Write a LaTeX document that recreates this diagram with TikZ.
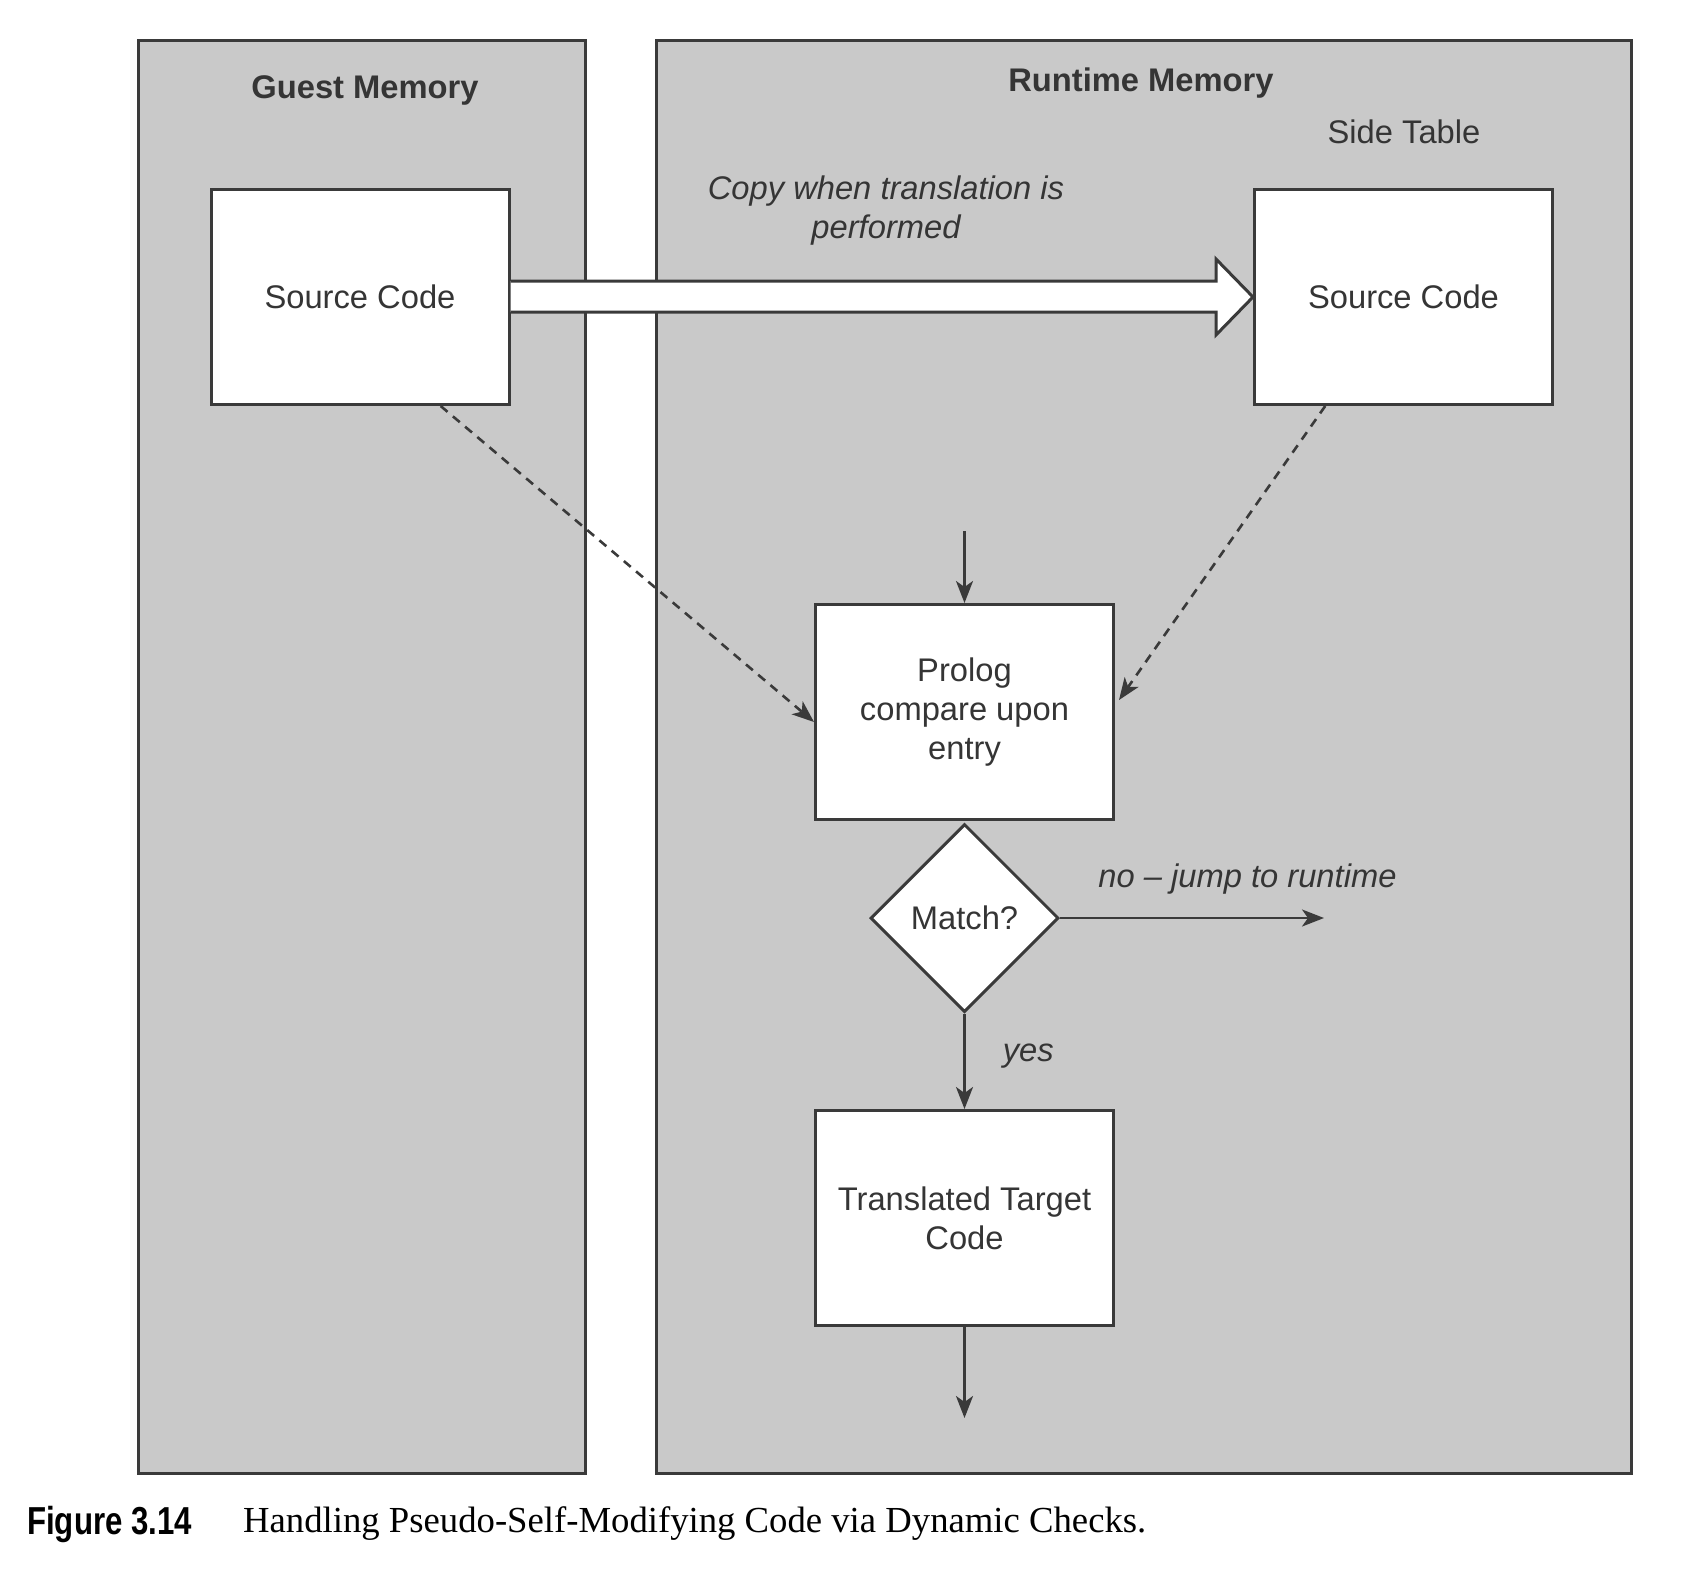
\documentclass[tikz,border=0pt]{standalone}
\usepackage{fontspec}
\setmainfont{Liberation Serif}
\setsansfont{Liberation Sans}
\usetikzlibrary{arrows.meta,shapes.geometric,calc}
\definecolor{panelgray}{HTML}{C9C9C9}
\definecolor{linegray}{HTML}{3A3A3A}
\definecolor{textgray}{HTML}{353535}
\tikzset{
  panel/.style={draw=linegray, line width=3pt, fill=panelgray, inner sep=0pt},
  codebox/.style={draw=linegray, line width=3pt, fill=white, minimum width=298pt, minimum height=215pt, inner sep=0pt, align=center, text=textgray, font=\fontsize{32.7}{39}\selectfont\sffamily},
  decision/.style={draw=linegray, line width=3pt, fill=white, diamond, aspect=1, minimum width=188pt, minimum height=188pt, inner sep=0pt, text=textgray, font=\fontsize{32.7}{39}\selectfont\sffamily},
  title/.style={text=textgray, inner sep=0pt, font=\fontsize{32.7}{39}\selectfont\sffamily\bfseries},
  plain/.style={text=textgray, inner sep=0pt, align=center, font=\fontsize{32.7}{39}\selectfont\sffamily},
  remark/.style={text=textgray, inner sep=0pt, align=center, font=\fontsize{32.7}{39}\selectfont\sffamily\itshape},
  flow/.style={draw=linegray, line width=2.6pt, -{Stealth[length=22pt, width=17pt, inset=6pt]}},
  dashflow/.style={flow, dash pattern=on 9pt off 7pt},
}
\begin{document}
\begin{tikzpicture}[x=1pt, y=-1pt]
\useasboundingbox (0,0) rectangle (1700,1569);
% panels
\node[panel, minimum width=447pt, minimum height=1433pt] (guest) at (361.5,756.5) {};
\node[panel, minimum width=975pt, minimum height=1433pt] (runtime) at (1143.5,756.5) {};
% titles
\node[title] (guesttitle) at (365,90) {Guest Memory};
\node[title] (runtimetitle) at (1141,83) {Runtime Memory};
\node[plain] (sidetable) at (1404,132) {Side Table};
\node[remark] (copylabel) at (886,211) {Copy when translation is\\performed};
% boxes
\node[codebox] (srcL) at (360,297) {Source Code};
\node[codebox] (srcR) at (1403.5,297) {Source Code};
\node[codebox] (prolog) at (964.5,712) {Prolog\\compare upon\\entry};
\node[decision] (match) at (964.5,918) {Match?};
\node[codebox] (target) at (964.5,1218) {Translated Target\\Code};
% big copy arrow
\draw[draw=linegray, line width=3pt, fill=white, line join=miter]
  ($(srcL.east)+(0,-16)$) -- ($(srcR.west)+(-37,-16)$) -- ($(srcR.west)+(-37,-38)$)
  -- (srcR.west) -- ($(srcR.west)+(-37,38)$) -- ($(srcR.west)+(-37,15)$) -- ($(srcL.east)+(0,15)$);
% free ends
\coordinate (entry) at ($(prolog.north)+(0,-72)$);
\coordinate (runtimeexit) at ($(match.east)+(264,0)$);
\coordinate (exit) at ($(target.south)+(0,91)$);
% connectors
\draw[flow] (entry) -- (prolog.north);
\draw[dashflow] ($(srcL.south west)!0.768!(srcL.south east)$) -- ($(prolog.west)+(0,10)$);
\draw[dashflow] ($(srcR.south west)!0.24!(srcR.south east)$) -- ($(prolog.east)+(4,-12)$);
\draw[flow] (match.east) -- node[remark, above=22pt, pos=0.71] (nolabel) {no -- jump to runtime} (runtimeexit);
\draw[flow] (match.south) -- node[remark, right=37pt, pos=0.45] (yeslabel) {yes} (target.north);
\draw[flow] (target.south) -- (exit);
% caption
\node[anchor=west, inner sep=0pt, font=\fontsize{39}{44}\selectfont\sffamily\bfseries] (fignum) at (27,1524) {\scalebox{0.8}[1]{Figure 3.14}};
\node[anchor=west, inner sep=0pt, font=\fontsize{36.7}{44}\selectfont\rmfamily] (caption) at (243,1524) {Handling Pseudo-Self-Modifying Code via Dynamic Checks.};
\end{tikzpicture}
\end{document}
